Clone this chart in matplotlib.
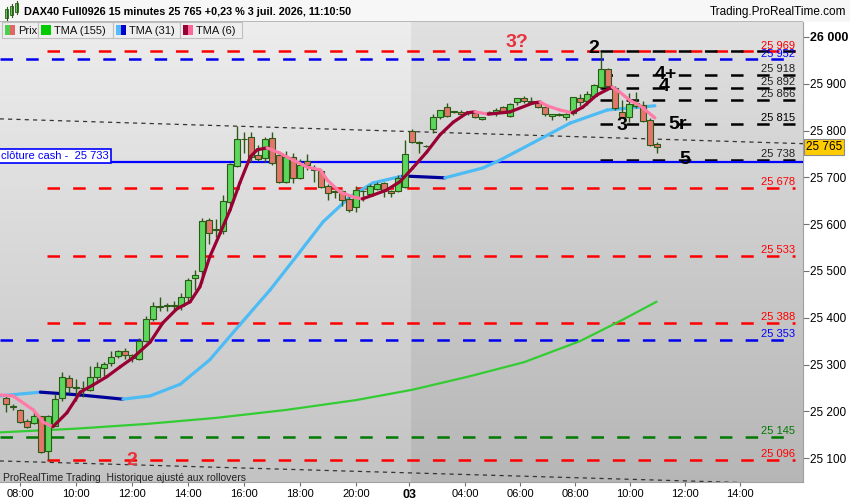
import numpy as np
import matplotlib.pyplot as plt
import matplotlib.transforms as mtransforms
from matplotlib.patches import Rectangle

plt.rcParams['font.family'] = ['Liberation Sans', 'DejaVu Sans']
plt.rcParams['lines.scale_dashes'] = False

# --- candles (15 min), bar index 0 = 08:00 on the 2nd ---
bar_idx = list(range(-2, 92))
opens = [25228, 25210, 25202, 25179, 25175, 25189, 25115, 25168, 25228, 25271,
         25252, 25249, 25246, 25274, 25292, 25303, 25318, 25329, 25313, 25311,
         25350, 25397, 25424, 25425, 25426, 25425, 25445, 25484, 25499, 25609,
         25588, 25586, 25648, 25724, 25781, 25786, 25748, 25741, 25785, 25748,
         25691, 25744, 25698, 25736, 25718, 25714, 25682, 25670, 25670, 25653,
         25636, 25670, 25665, 25676, 25688, 25671, 25670, 25679, 25800, 25773,
         25768, 25803, 25828, 25850, 25840, 25840, 25837, 25837, 25824, 25839,
         25837, 25851, 25831, 25860, 25869, 25862, 25858, 25850, 25831, 25833,
         25828, 25838, 25870, 25864, 25874, 25894, 25931, 25890, 25840, 25828,
         25852, 25855, 25822, 25771]
highs = [25233, 25215, 25205, 25184, 25203, 25190, 25192, 25237, 25283, 25277,
         25270, 25265, 25297, 25305, 25306, 25330, 25332, 25335, 25323, 25356,
         25403, 25433, 25444, 25432, 25436, 25452, 25485, 25502, 25613, 25613,
         25610, 25663, 25731, 25810, 25797, 25796, 25770, 25786, 25798, 25756,
         25756, 25752, 25740, 25750, 25727, 25718, 25685, 25674, 25674, 25662,
         25682, 25673, 25685, 25691, 25691, 25674, 25705, 25780, 25803, 25778,
         25770, 25836, 25845, 25858, 25842, 25845, 25840, 25839, 25830, 25842,
         25848, 25853, 25858, 25869, 25874, 25871, 25862, 25851, 25835, 25838,
         25838, 25872, 25879, 25885, 25899, 25967, 25933, 25895, 25866, 25880,
         25883, 25864, 25826, 25776]
lows = [25199, 25203, 25175, 25164, 25172, 25112, 25096, 25168, 25222, 25239,
        25222, 25230, 25243, 25268, 25276, 25297, 25313, 25312, 25305, 25309,
        25349, 25392, 25414, 25415, 25415, 25417, 25433, 25459, 25474, 25558,
        25573, 25579, 25640, 25723, 25752, 25733, 25735, 25733, 25727, 25687,
        25688, 25688, 25696, 25715, 25690, 25678, 25651, 25655, 25638, 25627,
        25625, 25649, 25663, 25674, 25658, 25658, 25668, 25677, 25773, 25753,
        25764, 25795, 25825, 25829, 25838, 25834, 25834, 25826, 25822, 25837,
        25832, 25838, 25830, 25855, 25858, 25856, 25848, 25831, 25822, 25832,
        25822, 25834, 25853, 25854, 25872, 25890, 25893, 25845, 25828, 25819,
        25848, 25818, 25768, 25752]
closes = [25216, 25209, 25177, 25167, 25191, 25114, 25190, 25227, 25273, 25252,
          25250, 25250, 25274, 25294, 25301, 25317, 25328, 25320, 25320, 25350,
          25397, 25425, 25426, 25426, 25427, 25445, 25481, 25492, 25607, 25581,
          25589, 25650, 25729, 25783, 25782, 25744, 25739, 25783, 25730, 25691,
          25744, 25698, 25726, 25727, 25716, 25680, 25667, 25669, 25652, 25630,
          25673, 25671, 25682, 25686, 25673, 25666, 25698, 25750, 25775, 25775,
          25766, 25828, 25843, 25831, 25841, 25835, 25837, 25829, 25828, 25840,
          25845, 25838, 25857, 25869, 25863, 25863, 25850, 25835, 25835, 25834,
          25836, 25871, 25862, 25878, 25897, 25931, 25895, 25848, 25830, 25856,
          25858, 25820, 25770, 25765]

# --- moving averages (bar index, price) ---
tma6_x = [-2.9, -1, 1.9, 3.3, 4.7, 6.7, 8.6, 10.4, 12.4, 14.3, 16.1, 18.6, 20.4, 22.4,
          24.3, 25.7, 27.1, 28.6, 30, 31.4, 32.9, 33.9, 35.3, 37.1, 39, 41, 42.9, 43.9,
          45.7, 47.6, 48.9, 50.4, 52.4, 54.3, 56.1, 58.1, 60, 61.9, 63.9, 65, 66.9, 70,
          73.3, 74.3, 75.3, 77.1, 78.9, 80.4, 82.4, 84.6, 85.7, 87.1, 88.6, 90.7]
tma6_y = [25235, 25233, 25203, 25177, 25167, 25197, 25241, 25256, 25274, 25295, 25314,
          25348, 25389, 25419, 25434, 25466, 25530, 25581, 25630, 25688, 25744, 25759,
          25763, 25752, 25737, 25722, 25716, 25694, 25669, 25658, 25654, 25662, 25673,
          25691, 25720, 25754, 25791, 25818, 25838, 25840, 25835, 25840, 25859, 25861,
          25853, 25844, 25838, 25850, 25876, 25893, 25882, 25865, 25853, 25827]
tma31_x = [-2.9, 2.9, 8.6, 14.7, 18.6, 22.9, 27.1, 31.4, 35.7, 40, 43.3, 47.1, 50.4,
           54.7, 60.7, 66.1, 68.6, 73.3, 78.6, 83.9, 90.7]
tma31_y = [25233, 25241, 25235, 25226, 25233, 25258, 25310, 25385, 25459, 25541, 25605,
           25658, 25688, 25703, 25699, 25720, 25737, 25774, 25816, 25844, 25853]
tma155_x = [-2.9, 8, 18, 28, 38, 48, 56, 64, 72, 80, 86, 90.9]
tma155_y = [25155, 25163, 25173, 25186, 25203, 25224, 25246, 25274, 25305, 25350,
            25395, 25434]

# --- horizontal levels ---
red_levels = [25969, 25678, 25533, 25388, 25096]
blue_levels = [25952, 25353]
green_levels = [25145]
black_levels = [25969, 25918, 25892, 25866, 25815, 25738]
cash_close = 25733
last_price = 25765
trend_upper = ([-2.9, 111.9], [25825, 25772])
trend_lower = ([-2.9, 111.9], [25094, 25044])

level_labels = [(25969, '25 969', '#ff0000'), (25952, '25 952', '#0000ff'),
                (25918, '25 918', '#222222'), (25892, '25 892', '#222222'),
                (25866, '25 866', '#222222'), (25815, '25 815', '#000000'),
                (25738, '25 738', '#222222'), (25678, '25 678', '#ff0000'),
                (25533, '25 533', '#ff0000'), (25388, '25 388', '#ff0000'),
                (25353, '25 353', '#0000ff'), (25145, '25 145', '#007700'),
                (25096, '25 096', '#ff0000')]

wave_marks = [(82, 25976, '2', 'black'), (71, 25989, '3?', '#e8323c'),
              (92.2, 25919, '4+', 'black'), (92.1, 25895, '4', 'black'),
              (86, 25810, '3', 'black'), (94, 25814, '5r', 'black'),
              (95, 25739, '5', 'black'), (16, 25096, '2', '#e8323c')]

xtick_pos = [0, 8, 16, 24, 32, 40, 48, 55.6, 63.6, 71.5, 79.3, 87.2, 95, 102.8]
xtick_lab = ['08:00', '10:00', '12:00', '14:00', '16:00', '18:00', '20:00', '03',
             '04:00', '06:00', '08:00', '10:00', '12:00', '14:00']
yticks = [25100, 25200, 25300, 25400, 25500, 25600, 25700, 25800, 25900, 26000]

X0, X1 = -2.86, 111.86
Y0, Y1 = 25049, 26032
DAY_SPLIT = 55.9

fig = plt.figure(figsize=(8.5, 5), dpi=100, facecolor='white')
ax = fig.add_axes([0, 18 / 500, 803 / 850, 460 / 500])


def gradient(top, bot):
    g = np.linspace(top, bot, 256)
    return np.dstack([g, g, g]).reshape(256, 1, 3)


# background gradients (left = previous day, right = current day)
ax.imshow(gradient(0.93, 0.765), extent=[X0, DAY_SPLIT, Y0, Y1], aspect='auto',
          zorder=0, interpolation='bilinear')
ax.imshow(gradient(0.88, 0.715), extent=[DAY_SPLIT, X1, Y0, Y1], aspect='auto',
          zorder=0, interpolation='bilinear')

dash = (0, (9, 9.5))
for lv in red_levels:
    ax.plot([3.9, 110.7], [lv, lv], color='#ff0000', lw=1.8, ls=dash, zorder=2)
for lv in blue_levels:
    ax.plot([X0, 110.7], [lv, lv], color='#0000ee', lw=1.8, ls=dash, zorder=2)
for lv in green_levels:
    ax.plot([X0, 110.7], [lv, lv], color='#007a00', lw=1.8, ls=dash, zorder=2)
for lv in black_levels:
    ax.plot([82.9, 110.7], [lv, lv], color='#000000', lw=1.8, ls=(0, (9, 9.8)), zorder=2)

ax.plot(*trend_upper, color='#333333', lw=0.9, ls=(0, (3, 3)), zorder=2)
ax.plot(*trend_lower, color='#333333', lw=0.9, ls=(0, (3, 3)), zorder=2)
ax.axhline(cash_close, color='#0000ff', lw=1.6, zorder=3)


def slope_line(xs, ys, up_col, down_col, lw, z):
    for k in range(len(xs) - 1):
        col = up_col if ys[k + 1] >= ys[k] else down_col
        ax.plot(xs[k:k + 2], ys[k:k + 2], color=col, lw=lw, solid_capstyle='round', zorder=z)


ax.plot(tma155_x, tma155_y, color='#33cc33', lw=1.6, zorder=3)
slope_line(tma31_x, tma31_y, '#4dbcf5', '#00009a', 2.3, 4)

# candles
o = np.array(opens); c = np.array(closes)
bottom = np.minimum(o, c)
height = np.maximum(np.abs(c - o), 1.5)
body_col = np.where(c >= o, '#5cd65c', '#e2756c')
ax.vlines(bar_idx, lows, highs, color='#2c5a16', lw=1.0, zorder=5)
ax.bar(bar_idx, height, bottom=bottom, width=0.72, color=body_col,
       edgecolor='#2c5a16', linewidth=0.8, zorder=6)

slope_line(tma6_x, tma6_y, '#990033', '#ff7aa6', 2.3, 7)

# level labels
for lv, txt, col in level_labels:
    ax.text(110.7, lv + 2, txt, ha='right', va='bottom', color=col, fontsize=8, zorder=8)

for xi, yi, txt, col in wave_marks:
    ax.text(xi, yi, txt, ha='center', va='center', color=col, fontsize=14,
            fontweight='bold', zorder=9)

ax.text(X0 + 0.2, cash_close + 2, 'clôture cash -  25 733', ha='left', va='bottom',
        color='#0000ff', fontsize=8, zorder=9,
        bbox=dict(boxstyle='square,pad=0.2', fc='white', ec='#0000ff', lw=1.2))
ax.text(X0 + 0.4, Y0 + 8, 'ProRealTime Trading  Historique ajusté aux rollovers',
        ha='left', va='center', fontsize=7.5, color='#222222', zorder=9)

ax.set_xlim(X0, X1)
ax.set_ylim(Y0, Y1)

# axes styling
for s in ['top', 'left']:
    ax.spines[s].set_visible(False)
ax.spines['right'].set_color('#a0a0a0')
ax.spines['bottom'].set_color('#a0a0a0')
ax.yaxis.tick_right()
ax.set_yticks(yticks)
ax.set_yticklabels([f'{v:,}'.replace(',', ' ') for v in yticks])
ax.tick_params(axis='y', length=4, color='#707070', labelsize=8.5, pad=1)
ax.set_xticks(xtick_pos)
ax.set_xticklabels(xtick_lab)
ax.tick_params(axis='x', length=3, color='#707070', labelsize=8, pad=2)
for lab in ax.get_yticklabels():
    if lab.get_text() == '26 000':
        lab.set_fontweight('bold')
        lab.set_fontsize(9)
for lab in ax.get_xticklabels():
    if lab.get_text() == '03':
        lab.set_fontweight('bold')
        lab.set_fontsize(9)

trans = mtransforms.blended_transform_factory(ax.transAxes, ax.transData)
ax.text(1.004, last_price, '25 765', transform=trans, ha='left', va='center',
        fontsize=8.5, color='black', zorder=10, clip_on=False,
        bbox=dict(boxstyle='square,pad=0.15', fc='#ffcc00', ec='#8a8a8a', lw=0.8))

# overlay for header / legend in pixel coordinates
ov = fig.add_axes([0, 0, 1, 1], zorder=5)
ov.set_xlim(0, 850)
ov.set_ylim(500, 0)
ov.axis('off')
ov.patch.set_visible(False)
ov.add_patch(Rectangle((0, 0), 850, 22, fc='#f7f7f7', ec='none'))
ov.add_patch(Rectangle((0, 21.2), 803, 1.0, fc='#b8b8b8', ec='none'))
ov.text(24, 12, 'DAX40 Full0926 15 minutes 25 765 +0,23 % 3 juil. 2026, 11:10:50',
        fontsize=7.8, fontweight='bold', va='center', ha='left')
ov.text(846, 12, 'Trading.ProRealTime.com', fontsize=8.5, va='center', ha='right')
# small candle icon
for xx, y_a, y_b in [(7, 9, 18), (12, 6, 15), (17, 3, 12)]:
    ov.plot([xx, xx], [y_a - 2, y_b + 2], color='#2c5a16', lw=0.8)
    ov.add_patch(Rectangle((xx - 1.5, y_a), 3, y_b - y_a, fc='#5cd65c', ec='#2c5a16', lw=0.6))

legend_boxes = [(2, 38, 'Prix', ['#4ccd4c', '#e06666']),
                (38, 113, 'TMA (155)', ['#00cc00', '#00cc00']),
                (113, 180, 'TMA (31)', ['#55bbff', '#0000cc']),
                (180, 242, 'TMA (6)', ['#990033', '#ff6699'])]
for bx0, bx1, txt, cols in legend_boxes:
    ov.add_patch(Rectangle((bx0, 22), bx1 - bx0, 16, fc='#eeeeee', ec='#c0c0c0', lw=0.8))
    ov.add_patch(Rectangle((bx0 + 3, 25), 5, 10, fc=cols[0], ec='none'))
    ov.add_patch(Rectangle((bx0 + 8, 25), 5, 10, fc=cols[1], ec='none'))
    ov.text(bx0 + 16, 30.5, txt, fontsize=8, va='center', ha='left', color='#111111')

fig.savefig('out.png', dpi=100, facecolor='white')
